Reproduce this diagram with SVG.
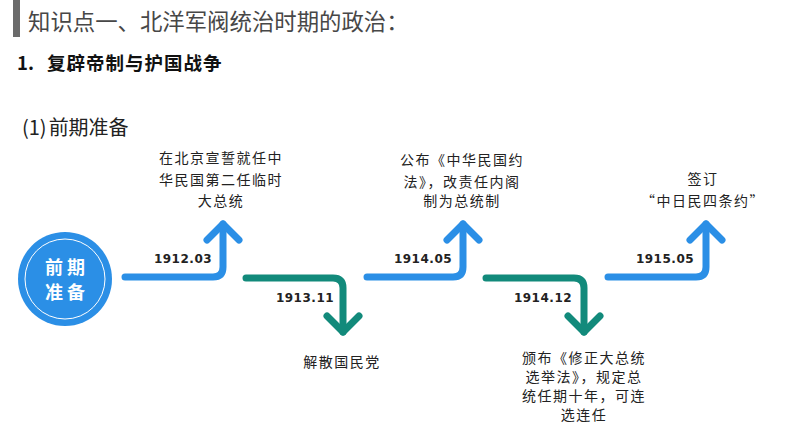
<svg xmlns="http://www.w3.org/2000/svg" width="794" height="447" viewBox="0 0 794 447">
<style>
.cn{font-family:"Noto Sans CJK SC","Noto Sans",sans-serif;}
.desc{font-family:"Noto Sans CJK SC","Noto Sans",sans-serif;font-size:14px;fill:#222;letter-spacing:1.5px;text-anchor:middle;}
.date{font-family:"DejaVu Sans",sans-serif;font-size:12px;font-weight:bold;fill:#222;text-anchor:middle;letter-spacing:0.5px;}
.blue{fill:none;stroke:#2b8fe6;stroke-width:7;stroke-linecap:round;stroke-linejoin:round;}
.teal{fill:none;stroke:#128a7b;stroke-width:7;stroke-linecap:round;stroke-linejoin:round;}
</style>
<rect width="794" height="447" fill="#ffffff"/>
<g id="title">
<rect x="13" y="0" width="7" height="37" fill="#6b6b6b"/>
<text x="28" y="30" class="cn" font-size="22.4" fill="#474747">知识点一、北洋军阀统治时期的政治：</text>
</g>
<g id="subtitle">
<text x="17" y="70" class="cn" font-size="18.5" font-weight="bold" fill="#111">1.<tspan x="47" letter-spacing="1">复辟帝制与护国战争</tspan></text>
</g>
<g id="section">
<text x="22" y="135" class="cn" font-size="20" fill="#222">(1)<tspan dx="2">前期准备</tspan></text>
</g>
<g id="start">
<circle cx="65" cy="279" r="47" fill="#2b8fe6"/>
<circle cx="65" cy="279" r="40" fill="none" stroke="#ffffff" stroke-width="1"/>
<text x="67" y="274" class="cn" font-size="18" font-weight="bold" fill="#ffffff" text-anchor="middle" letter-spacing="4">前期</text>
<text x="67" y="299" class="cn" font-size="18" font-weight="bold" fill="#ffffff" text-anchor="middle" letter-spacing="4">准备</text>
</g>
<g id="connectors">
<path class="blue" d="M125 277 H213 Q223 277 223 267 V224"/>
<path class="blue" d="M207 240 L223 224 L239 240"/>
<path class="teal" d="M246 278 H333 Q343 278 343 288 V332"/>
<path class="teal" d="M327 316 L343 332 L359 316"/>
<path class="blue" d="M367 277 H453 Q463 277 463 267 V224"/>
<path class="blue" d="M447 240 L463 224 L479 240"/>
<path class="teal" d="M486 278 H574 Q584 278 584 288 V332"/>
<path class="teal" d="M568 316 L584 332 L600 316"/>
<path class="blue" d="M608 277 H696 Q706 277 706 267 V224"/>
<path class="blue" d="M690 240 L706 224 L722 240"/>
</g>
<g id="e1912">
<text x="183" y="263" class="date">1912.03</text>
<text x="221" y="163" class="desc">在北京宣誓就任中</text>
<text x="221" y="184.5" class="desc">华民国第二任临时</text>
<text x="221" y="206" class="desc">大总统</text>
</g>
<g id="e1913">
<text x="305" y="302" class="date">1913.11</text>
<text x="342" y="367" class="desc">解散国民党</text>
</g>
<g id="e1914a">
<text x="423" y="263" class="date">1914.05</text>
<text x="462" y="165" class="desc">公布《中华民国约</text>
<text x="462" y="186.5" class="desc">法》，改责任内阁</text>
<text x="462" y="206" class="desc">制为总统制</text>
</g>
<g id="e1914b">
<text x="543" y="302" class="date">1914.12</text>
<text x="584" y="363" class="desc">颁布《修正大总统</text>
<text x="584" y="382" class="desc">选举法》，规定总</text>
<text x="584" y="401" class="desc">统任期十年，可连</text>
<text x="584" y="420" class="desc">选连任</text>
</g>
<g id="e1915">
<text x="665" y="263" class="date">1915.05</text>
<text x="703" y="184" class="desc">签订</text>
<text x="703" y="206" class="desc">“中日民四条约”</text>
</g>
</svg>
